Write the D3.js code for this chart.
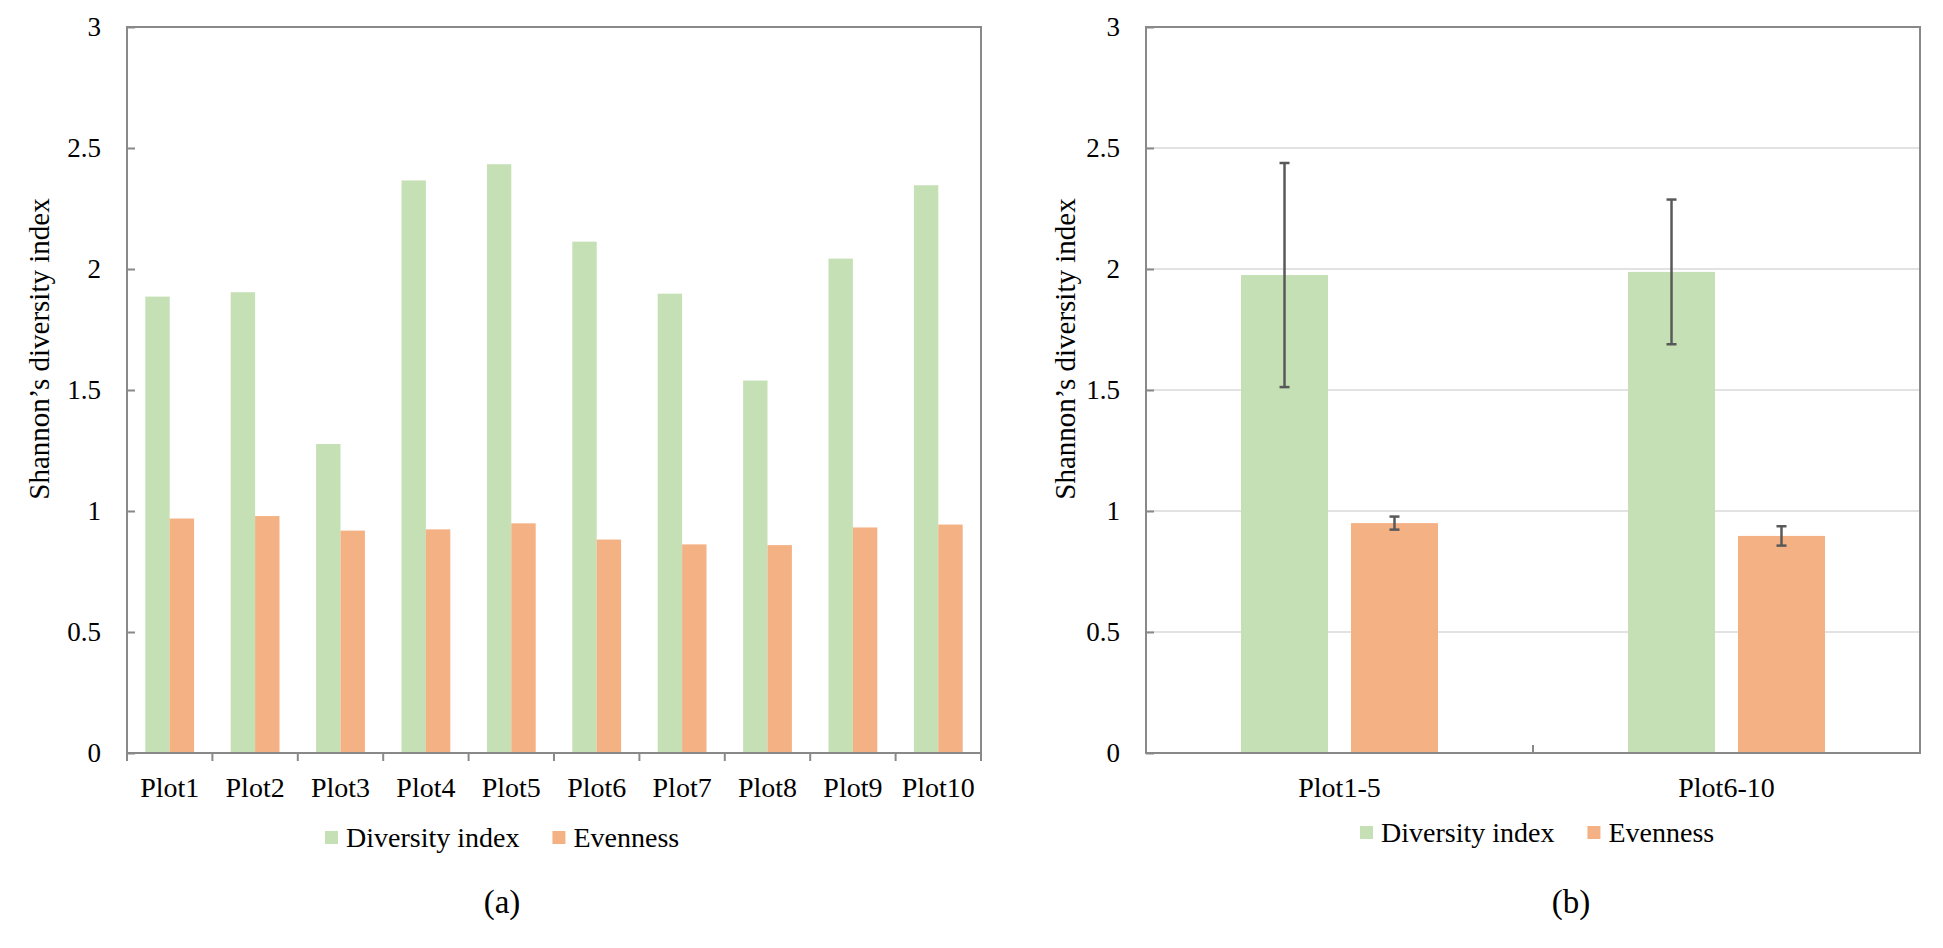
<!DOCTYPE html>
<html>
<head>
<meta charset="utf-8">
<script src="https://cdn.jsdelivr.net/npm/d3@7"></script>
<style>
  html, body { margin: 0; padding: 0; background: #fff; }
  svg { display: block; font-family: "Liberation Serif", "Times New Roman", Tinos, serif; }
</style>
</head>
<body>
<svg id="chart" width="1943" height="948"></svg>
<script>
// data
const plots = ['Plot1', 'Plot2', 'Plot3', 'Plot4', 'Plot5', 'Plot6', 'Plot7', 'Plot8', 'Plot9', 'Plot10']
const diversity = [1.886, 1.904, 1.277, 2.366, 2.433, 2.113, 1.898, 1.539, 2.043, 2.346]
const evenness = [0.969, 0.979, 0.919, 0.924, 0.949, 0.882, 0.862, 0.859, 0.932, 0.944]

const groups = ['Plot1-5', 'Plot6-10']
const groupDiversity = [1.975, 1.988]
const groupDiversityErr = [0.463, 0.299]
const groupEvenness = [0.950, 0.897]
const groupEvennessErr = [0.027, 0.040]

const seriesNames = ['Diversity index', 'Evenness']
const yTicks = [0, 0.5, 1, 1.5, 2, 2.5, 3]
const yTickLabels = ['0', '0.5', '1', '1.5', '2', '2.5', '3']
const yTitle = 'Shannon\u2019s diversity index'
const panelLabels = ['(a)', '(b)']

const color = {
  diversity: '#C5E0B4',
  evenness: '#F4B183',
  axis: '#898989',
  grid: '#D9D9D9',
  error: '#595959',
  text: '#000'
}
const seriesColor = [color.diversity, color.evenness]
const fontFamily = '"Liberation Serif", "Times New Roman", Tinos, serif'

const svg = d3.select('#chart').attr('font-family', fontFamily)

const plotTop = 27
const plotBottom = 753
const y = d3.scaleLinear().domain([0, 3]).range([plotBottom, plotTop])

function drawYAxis(g, left, right, grid) {
  if (grid) {
    g.append('g')
      .selectAll('line')
      .data(yTicks.filter((d) => d > 0 && d < 3))
      .enter()
      .append('line')
      .attr('x1', left)
      .attr('x2', right)
      .attr('y1', (d) => y(d))
      .attr('y2', (d) => y(d))
      .attr('stroke', color.grid)
      .attr('stroke-width', 1.5)
  }
  const axis = d3
    .axisLeft(y)
    .tickValues(yTicks)
    .tickFormat((d, i) => yTickLabels[i])
    .tickSizeInner(-8)
    .tickSizeOuter(0)
    .tickPadding(26)
  const ax = g.append('g').attr('transform', 'translate(' + left + ',0)').call(axis)
  ax.attr('font-family', fontFamily).attr('font-size', 27)
  ax.select('.domain').remove()
  ax.selectAll('.tick line').attr('stroke', color.axis).attr('stroke-width', 2)
  ax.selectAll('.tick text').attr('fill', color.text)
}

function drawFrame(g, left, right) {
  g.append('rect')
    .attr('x', left)
    .attr('y', plotTop)
    .attr('width', right - left)
    .attr('height', plotBottom - plotTop)
    .attr('fill', 'none')
    .attr('stroke', color.axis)
    .attr('stroke-width', 2)
}

function drawTitle(g, cx) {
  g.append('text')
    .attr('transform', 'translate(' + cx + ',349) rotate(-90)')
    .attr('text-anchor', 'middle')
    .attr('dy', '0.35em')
    .attr('fill', color.text)
    .attr('font-size', 29)
    .text(yTitle)
}

function drawLegend(g, startX, baseY) {
  let lx = startX
  seriesNames.forEach((name, i) => {
    g.append('rect')
      .attr('x', lx)
      .attr('y', baseY - 16)
      .attr('width', 13)
      .attr('height', 13)
      .attr('fill', seriesColor[i])
    const t = g.append('text')
      .attr('x', lx + 21)
      .attr('y', baseY)
      .attr('fill', color.text)
      .attr('font-size', 28)
      .text(name)
    lx += 21 + t.node().getComputedTextLength() + 33
  })
}

// ---------- (a) per plot ----------
const ga = svg.append('g')
const aLeft = 127
const aRight = 981

const xa = d3.scaleBand().domain(plots).range([aLeft, aRight]).paddingInner(0).paddingOuter(0)
const subA = d3.scaleBand().domain(seriesNames).range([0, xa.bandwidth()]).paddingInner(0).paddingOuter(0.75)

const aData = [diversity, evenness]
aData.forEach((vals, s) => {
  ga.append('g')
    .selectAll('rect')
    .data(vals)
    .enter()
    .append('rect')
    .attr('x', (d, i) => xa(plots[i]) + subA(seriesNames[s]))
    .attr('y', (d) => y(d))
    .attr('width', subA.bandwidth())
    .attr('height', (d) => y(0) - y(d))
    .attr('fill', seriesColor[s])
})

drawYAxis(ga, aLeft, aRight, false)
drawFrame(ga, aLeft, aRight)

// category boundary ticks pointing out of the plot
ga.append('g')
  .selectAll('line')
  .data(plots.map((p) => xa(p)).concat([xa.range()[1]]))
  .enter()
  .append('line')
  .attr('x1', (d) => d)
  .attr('x2', (d) => d)
  .attr('y1', plotBottom)
  .attr('y2', plotBottom + 8)
  .attr('stroke', color.axis)
  .attr('stroke-width', 2)

const xAxisA = ga.append('g')
  .attr('transform', 'translate(0,' + plotBottom + ')')
  .call(d3.axisBottom(xa).tickSize(0).tickPadding(24))
xAxisA.attr('font-family', fontFamily).attr('font-size', 28)
xAxisA.select('.domain').remove()
xAxisA.selectAll('.tick text').attr('fill', color.text)

drawTitle(ga, 39)
drawLegend(ga, 325, 847)

ga.append('text')
  .attr('x', 502)
  .attr('y', 913)
  .attr('text-anchor', 'middle')
  .attr('fill', color.text)
  .attr('font-size', 33)
  .text(panelLabels[0])

// ---------- (b) grouped means ----------
const gb = svg.append('g')
const bLeft = 1146
const bRight = 1920

const xb = d3.scaleBand().domain(groups).range([bLeft, bRight]).paddingInner(0).paddingOuter(0)
const subB = d3.scaleBand().domain(seriesNames).range([0, xb.bandwidth()]).paddingInner(0.209).paddingOuter(0.864)

drawYAxis(gb, bLeft, bRight, true)

const bData = [
  groups.map((g, i) => ({ g: g, v: groupDiversity[i], e: groupDiversityErr[i] })),
  groups.map((g, i) => ({ g: g, v: groupEvenness[i], e: groupEvennessErr[i] }))
]

bData.forEach((vals, s) => {
  gb.append('g')
    .selectAll('rect')
    .data(vals)
    .enter()
    .append('rect')
    .attr('x', (d) => xb(d.g) + subB(seriesNames[s]))
    .attr('y', (d) => y(d.v))
    .attr('width', subB.bandwidth())
    .attr('height', (d) => y(0) - y(d.v))
    .attr('fill', seriesColor[s])
})

// error bars
const cap = 5
bData.forEach((vals, s) => {
  const eg = gb.append('g').attr('stroke', color.error).attr('stroke-width', 2.5)
  vals.forEach((d) => {
    const cx = xb(d.g) + subB(seriesNames[s]) + subB.bandwidth() / 2
    eg.append('line').attr('x1', cx).attr('x2', cx).attr('y1', y(d.v + d.e)).attr('y2', y(d.v - d.e))
    eg.append('line').attr('x1', cx - cap).attr('x2', cx + cap).attr('y1', y(d.v + d.e)).attr('y2', y(d.v + d.e))
    eg.append('line').attr('x1', cx - cap).attr('x2', cx + cap).attr('y1', y(d.v - d.e)).attr('y2', y(d.v - d.e))
  })
})

drawFrame(gb, bLeft, bRight)

// inner tick between the two categories
gb.append('g')
  .selectAll('line')
  .data(groups.slice(1).map((g) => xb(g)))
  .enter()
  .append('line')
  .attr('x1', (d) => d)
  .attr('x2', (d) => d)
  .attr('y1', plotBottom)
  .attr('y2', plotBottom - 8)
  .attr('stroke', color.axis)
  .attr('stroke-width', 2)

const xAxisB = gb.append('g')
  .attr('transform', 'translate(0,' + plotBottom + ')')
  .call(d3.axisBottom(xb).tickSize(0).tickPadding(24))
xAxisB.attr('font-family', fontFamily).attr('font-size', 28)
xAxisB.select('.domain').remove()
xAxisB.selectAll('.tick text').attr('fill', color.text)

drawTitle(gb, 1065)
drawLegend(gb, 1360, 842)

gb.append('text')
  .attr('x', 1571)
  .attr('y', 913)
  .attr('text-anchor', 'middle')
  .attr('fill', color.text)
  .attr('font-size', 33)
  .text(panelLabels[1])
</script>
</body>
</html>
